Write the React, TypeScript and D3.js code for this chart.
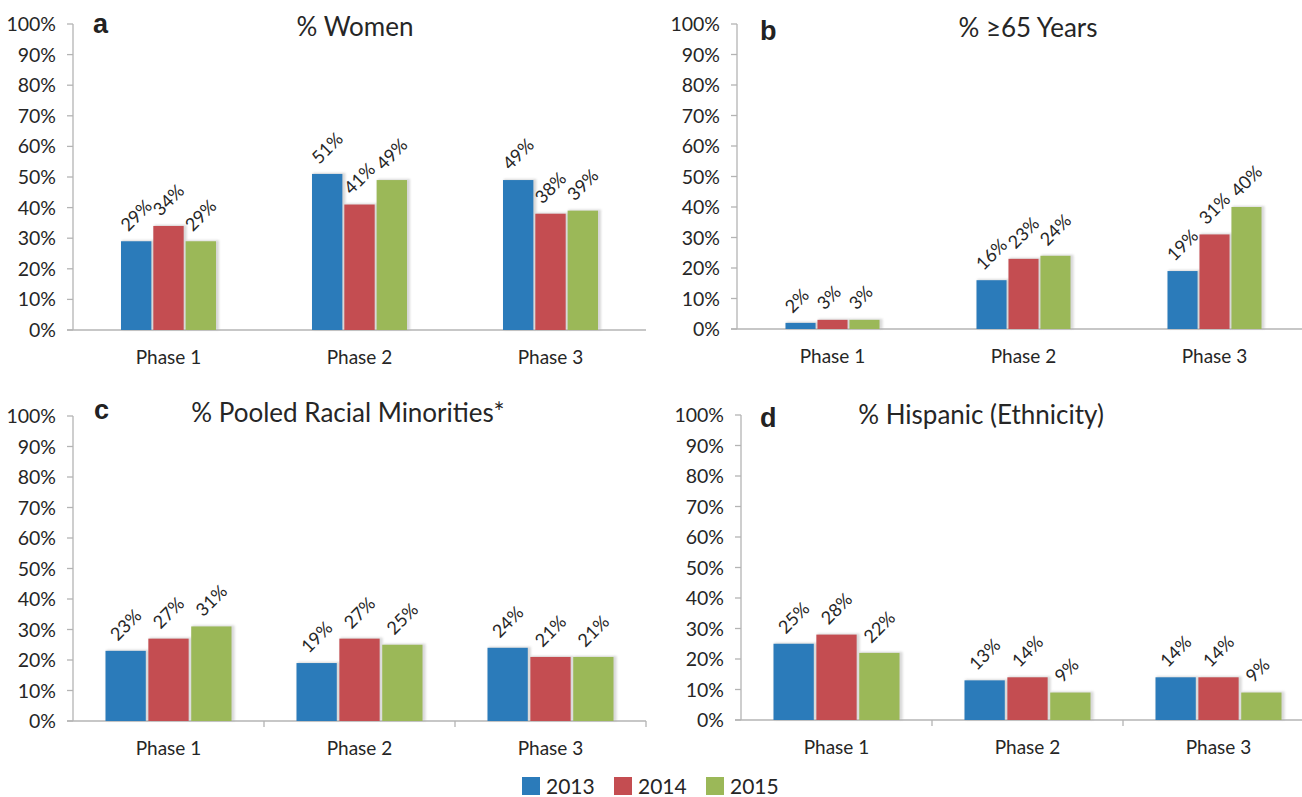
import React from "react";
import * as d3 from "d3";

const phases = ["Phase 1", "Phase 2", "Phase 3"];
const years = ["2013", "2014", "2015"];
const yearColors = ["#2b7bba", "#c44d51", "#9bb858"];

// values per phase: [2013, 2014, 2015]
const women = [[29, 34, 29], [51, 41, 49], [49, 38, 39]];
const age65 = [[2, 3, 3], [16, 23, 24], [19, 31, 40]];
const minorities = [[23, 27, 31], [19, 27, 25], [24, 21, 21]];
const hispanic = [[25, 28, 22], [13, 14, 9], [14, 14, 9]];

const yTicks = [0, 10, 20, 30, 40, 50, 60, 70, 80, 90, 100];

const panels = [
  { letter: "a", title: "% Women", data: women, axisX: 73, bandW: 191, yTop: 24, yBot: 330, groupW: 95, titleX: 355, titleY: 36, titleSize: 26, letterX: 93, letterY: 33, bandTicks: false },
  { letter: "b", title: "% \u226565 Years", data: age65, axisX: 737, bandW: 191, yTop: 24, yBot: 329, groupW: 94, titleX: 1028, titleY: 37, titleSize: 26, letterX: 760, letterY: 40, bandTicks: false },
  { letter: "c", title: "% Pooled Racial Minorities*", data: minorities, axisX: 73, bandW: 191, yTop: 416, yBot: 721, groupW: 126, titleX: 348, titleY: 422, titleSize: 26, letterX: 94, letterY: 419, bandTicks: true },
  { letter: "d", title: "% Hispanic (Ethnicity)", data: hispanic, axisX: 741, bandW: 191, yTop: 415, yBot: 720, groupW: 126, titleX: 981, titleY: 424, titleSize: 26, letterX: 760, letterY: 427, bandTicks: true },
];

const FONT = "Lato, 'Open Sans', sans-serif";
const AXIS = "#b4b4b4";
const TEXT = "#262626";

function Panel({ p, idx }: { p: any; idx: number }) {
  const x0 = d3.scaleBand().domain(phases).range([p.axisX, p.axisX + p.bandW * 3]);
  const x1 = d3.scaleBand().domain(years).range([0, p.groupW]).paddingInner(0.06);
  const y = d3.scaleLinear().domain([0, 100]).range([p.yBot, p.yTop]);
  const bw = x1.bandwidth();
  const off = (x0.bandwidth() - p.groupW) / 2;
  const xEnd = p.axisX + p.bandW * 3;
  return (
    <g>
      <line x1={p.axisX} x2={p.axisX} y1={y(100)} y2={y(0)} stroke={AXIS} strokeWidth={1.3} />
      {yTicks.map((t) => (
        <g key={t}>
          <line x1={p.axisX - 6} x2={p.axisX} y1={y(t)} y2={y(t)} stroke={AXIS} strokeWidth={1.3} />
          <text x={p.axisX - 17} y={y(t)} dy="0.36em" textAnchor="end" fontFamily={FONT} fontSize={19.5} fill={TEXT}>
            {t}%
          </text>
        </g>
      ))}
      <line x1={p.axisX - 6} x2={Math.min(xEnd, 1302)} y1={y(0)} y2={y(0)} stroke={AXIS} strokeWidth={1.3} />
      {p.bandTicks &&
        [1, 2, 3].map((i) => (
          <line key={i} x1={p.axisX + p.bandW * i} x2={p.axisX + p.bandW * i} y1={y(0)} y2={y(0) + 6} stroke={AXIS} strokeWidth={1.3} />
        ))}
      {phases.map((ph) => (
        <text key={ph} x={(x0(ph) as number) + x0.bandwidth() / 2} y={y(0) + 34} textAnchor="middle" fontFamily={FONT} fontSize={19} fill={TEXT}>
          {ph}
        </text>
      ))}
      {phases.map((ph, pi) =>
        years.map((yr, yi) => {
          const v = p.data[pi][yi];
          const bx = (x0(ph) as number) + off + (x1(yr) as number);
          const by = y(v);
          const bh = y(0) - y(v);
          return (
            <g key={ph + yr}>
              <rect x={bx + 1} y={by - 1} width={bw + 2} height={bh + 1} fill="#a8a8a8" opacity={0.45} filter={`url(#shadow${idx})`} />
              <rect x={bx} y={by} width={bw} height={bh} fill={yearColors[yi]} />
            </g>
          );
        })
      )}
      {phases.map((ph, pi) =>
        years.map((yr, yi) => {
          const v = p.data[pi][yi];
          const cx = (x0(ph) as number) + off + (x1(yr) as number) + bw / 2;
          const ty = y(v) - 9;
          return (
            <text key={"l" + ph + yr} transform={`translate(${cx - 8},${ty}) rotate(-45)`} fontFamily={FONT} fontSize={18} fill={TEXT}>
              {v}%
            </text>
          );
        })
      )}
      <text x={p.letterX} y={p.letterY} fontFamily="'Liberation Sans', Arial, sans-serif" fontWeight="bold" fontSize={27} fill="#222">
        {p.letter}
      </text>
      <text x={p.titleX} y={p.titleY} textAnchor="middle" fontFamily={FONT} fontSize={p.titleSize} fill={TEXT}>
        {p.title}
      </text>
    </g>
  );
}

export default function App() {
  const legendX = [522, 614, 706];
  return (
    <svg width={1302} height={797} style={{ position: "absolute", left: 0, top: 0, background: "#fff" }}>
      <defs>
        {panels.map((_, i) => (
          <filter key={i} id={`shadow${i}`} x="-20%" y="-20%" width="140%" height="140%">
            <feGaussianBlur stdDeviation={1.2} />
          </filter>
        ))}
      </defs>
      <rect x={0} y={0} width={1302} height={797} fill="#fff" />
      {panels.map((p, i) => (
        <Panel key={p.letter} p={p} idx={i} />
      ))}
      {years.map((yr, i) => (
        <g key={yr}>
          <rect x={legendX[i]} y={777} width={18} height={18} fill={yearColors[i]} />
          <text x={legendX[i] + 24} y={794} fontFamily={FONT} fontSize={21} fill={TEXT}>
            {yr}
          </text>
        </g>
      ))}
    </svg>
  );
}
